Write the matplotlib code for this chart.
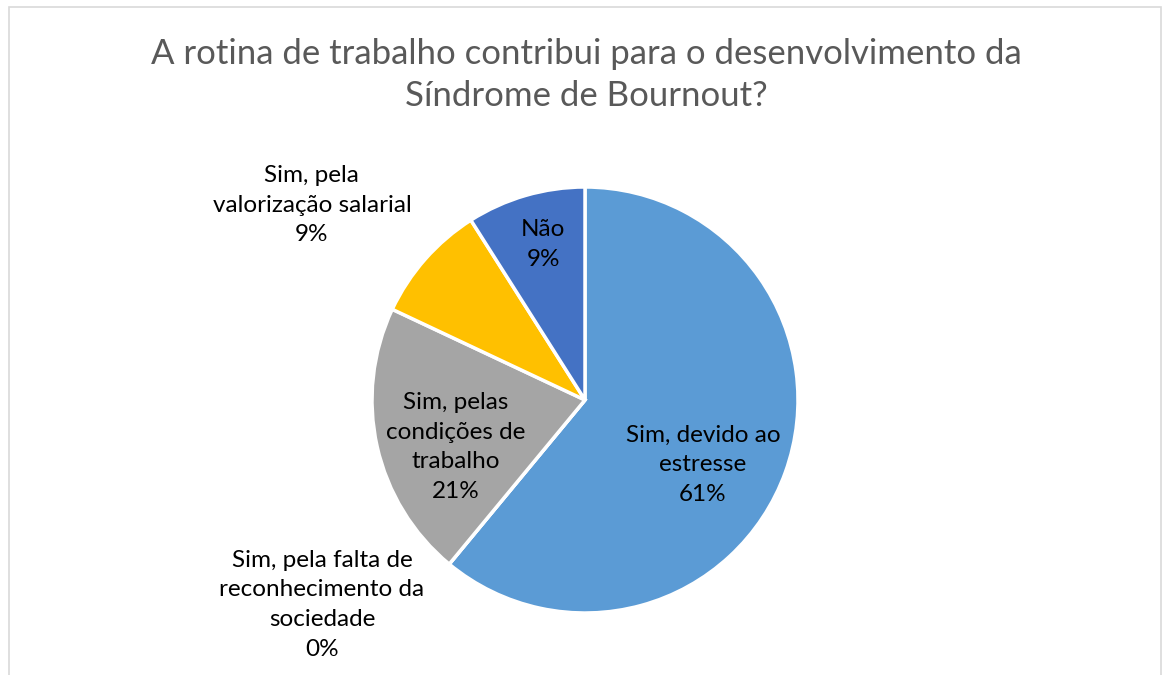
import matplotlib
matplotlib.use("Agg")
import matplotlib.pyplot as plt
from matplotlib.patches import Rectangle

plt.rcParams['font.family'] = ['Lato', 'DejaVu Sans']

categories = ["Sim, devido ao\nestresse",
              "Sim, pela falta de\nreconhecimento da\nsociedade",
              "Sim, pelas\ncondições de\ntrabalho",
              "Sim, pela\nvalorização salarial",
              "Não"]
values = [61, 0, 21, 9, 9]
colors = ["#5B9BD5", "#ED7D31", "#A5A5A5", "#FFC000", "#4472C4"]
title = "A rotina de trabalho contribui para o desenvolvimento da\nSíndrome de Bournout?"

# label positions (in units of pie radius, relative to centre)
label_pos = [(0.554, -0.305), (-1.235, -0.962), (-0.606, -0.221),
             (-1.282, 0.915), (-0.197, 0.732)]

W, H = 1165, 675
fig = plt.figure(figsize=(W / 100, H / 100), dpi=100)
fig.patch.set_facecolor("white")

# chart border
fig.add_artist(Rectangle((9 / W, -0.01), (1161 - 9) / W, (H - 7) / H + 0.01,
                         transform=fig.transFigure, fill=False,
                         edgecolor="#D9D9D9", linewidth=1.2))

cx, cy, R = 585, 400, 213
ax = fig.add_axes([(cx - R) / W, (H - cy - R) / H, 2 * R / W, 2 * R / H])

wedges, _ = ax.pie(values, colors=colors, startangle=90, counterclock=False,
                   radius=1, wedgeprops=dict(edgecolor="white", linewidth=2.5))
ax.set_xlim(-1, 1)
ax.set_ylim(-1, 1)
ax.set_aspect("equal")
ax.axis("off")

for cat, v, (x, y) in zip(categories, values, label_pos):
    ax.text(x, y, f"{cat}\n{v}%", ha="center", va="center", fontsize=17.5,
            color="#000000", linespacing=1.52)

fig.text(586 / W, 1 - 75 / H, title, ha="center", va="center", fontsize=25,
         color="#595959", linespacing=1.4)

fig.savefig("out.png", dpi=100, facecolor="white")
